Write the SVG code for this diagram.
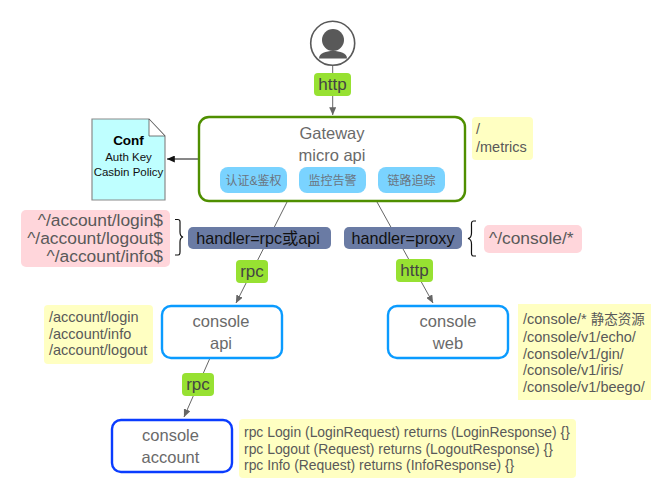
<svg xmlns="http://www.w3.org/2000/svg" width="672" height="499" viewBox="0 0 672 499">
<style>
text{font-family:"Liberation Sans","Noto Sans CJK SC",sans-serif;fill:#595959}
.c{text-anchor:middle}
.e{text-anchor:end}
.name{font-size:16.500px;fill:#6a6a6a}
.tag{font-size:17px;fill:#444}
.hd{font-size:16.200px;fill:#111}
.route{font-size:14.500px}
.rp{font-size:13.900px}
.big{font-size:17.400px}
.t12{font-size:12px;fill:#6a7480}
.edge{fill:none;stroke:#666;stroke-width:1;marker-end:url(#tri)}
.box{fill:#fff;stroke-width:2.400}
.yellow{fill:#ffffc2}
.pink{fill:#ffd6db}
.green{fill:#97e132}
.slate{fill:#6a7ba4}
.chip{fill:#7ad3ff}
.brace{fill:none;stroke:#111;stroke-width:1.200}
</style>
<defs>
<marker id="tri" viewBox="0 0 8 7" refX="7.800" refY="3.500" markerWidth="8" markerHeight="7" markerUnits="userSpaceOnUse" orient="auto"><path d="M0 0L8 3.500L0 7Z" fill="#666"/></marker>
<marker id="tri2" viewBox="0 0 8 7" refX="7.800" refY="3.500" markerWidth="8" markerHeight="7" markerUnits="userSpaceOnUse" orient="auto"><path d="M0 0L8 3.500L0 7Z" fill="#111"/></marker>
</defs>
<g id="connectors">
<path class="edge" d="M332.700 66V115"/>
<path d="M199 159H167" fill="none" stroke="#111" stroke-width="1" marker-end="url(#tri2)"/>
<path class="edge" d="M287 202L236 303"/>
<path class="edge" d="M377 202L433 303"/>
<path class="edge" d="M210 358L184 417"/>
</g>
<g id="user">
<circle cx="332.700" cy="43.300" r="22" fill="#fff" stroke="#595959" stroke-width="1.600"/>
<circle cx="333" cy="40" r="11" fill="#595959"/>
<path d="M319 58.500C319 53 326 51 333 51S347 53 347 58.500Z" fill="#595959"/>
</g>
<g id="label-http-top"><rect class="green" x="314" y="73" width="37" height="23" rx="4"/><text class="c tag" x="332.500" y="90">http</text></g>
<g id="gateway">
<rect class="box" x="199" y="117" width="266" height="84" rx="10" stroke="#4f8f00"/>
<text class="c name" x="332" y="139">Gateway</text>
<text class="c name" x="332" y="161">micro api</text>
</g>
<g id="chip-auth"><rect class="chip" x="220" y="167" width="67" height="26" rx="8"/><text class="c t12" x="253.500" y="184.500">认证&amp;鉴权</text></g>
<g id="chip-monitor"><rect class="chip" x="299" y="167" width="67" height="26" rx="8"/><text class="c t12" x="332.500" y="184.500">监控告警</text></g>
<g id="chip-trace"><rect class="chip" x="378" y="167" width="67" height="26" rx="8"/><text class="c t12" x="411.500" y="184.500">链路追踪</text></g>
<g id="conf">
<path d="M92 119H149L165 136V200H92Z" fill="#bfffff" stroke="#8a8a8a" stroke-width="1.200"/>
<path d="M149 119V136H165Z" fill="#fff" stroke="#555" stroke-width="0.800"/>
<text class="c" x="128.500" y="145" font-size="13.500" font-weight="bold" style="fill:#000">Conf</text>
<text class="c" x="128.500" y="161" font-size="11.500" style="fill:#111">Auth Key</text>
<text class="c" x="128.500" y="176" font-size="11.500" style="fill:#111">Casbin Policy</text>
</g>
<g id="note-metrics"><rect class="yellow" x="472" y="117" width="61" height="43" rx="4"/><text class="route" x="476" y="134">/</text><text class="route" x="476" y="152">/metrics</text></g>
<g id="note-account-routes">
<rect class="pink" x="21" y="210" width="149" height="57" rx="5"/>
<text class="e big" x="163" y="226">^/account/login$</text>
<text class="e big" x="163" y="244">^/account/logout$</text>
<text class="e big" x="163" y="262">^/account/info$</text>
</g>
<g id="brace-right"><path class="brace" d="M175 219.500H178C180.500 219.500 180 222 180 225V232C180 235 181 236.500 183 237C181 237.500 180 239 180 242V249C180 252 180.500 255 178 255H175"/></g>
<g id="handler-rpc"><rect class="slate" x="188" y="227" width="143" height="22" rx="5"/><text class="c hd" x="258" y="243.500">handler=rpc或api</text></g>
<g id="handler-proxy"><rect class="slate" x="344" y="227" width="118" height="22" rx="5"/><text class="c hd" x="403" y="243.500">handler=proxy</text></g>
<g id="brace-left"><path class="brace" d="M476 221H473.500C471 221 471.500 224 471.500 227V233C471.500 236 470.500 238 468 238.500C470.500 239 471.500 241 471.500 244V250C471.500 253 471 256 473.500 256H476"/></g>
<g id="note-console-route"><rect class="pink" x="484" y="225" width="98" height="28" rx="5"/><text class="big" x="489" y="244">^/console/*</text></g>
<g id="label-rpc-1"><rect class="green" x="236" y="260" width="32" height="23" rx="4"/><text class="c tag" x="252" y="277">rpc</text></g>
<g id="label-http-2"><rect class="green" x="396" y="259" width="37" height="23" rx="4"/><text class="c tag" x="414.500" y="276">http</text></g>
<g id="note-api-routes">
<rect class="yellow" x="44" y="305" width="109" height="59" rx="4"/>
<text class="route" x="49" y="322">/account/login</text>
<text class="route" x="49" y="339">/account/info</text>
<text class="route" x="49" y="355">/account/logout</text>
</g>
<g id="console-api"><rect class="box" x="162" y="306" width="120" height="52" rx="9" stroke="#0a9bff"/><text class="c name" x="221" y="327">console</text><text class="c name" x="221" y="349">api</text></g>
<g id="console-web"><rect class="box" x="388" y="306" width="120" height="52" rx="9" stroke="#0a9bff"/><text class="c name" x="448" y="327">console</text><text class="c name" x="448" y="349">web</text></g>
<g id="note-web-routes">
<rect class="yellow" x="518" y="304" width="133" height="96"/>
<text class="route" x="523" y="324">/console/* <tspan font-size="13.500">静态资源</tspan></text>
<text class="route" x="523" y="342">/console/v1/echo/</text>
<text class="route" x="523" y="359">/console/v1/gin/</text>
<text class="route" x="523" y="375">/console/v1/iris/</text>
<text class="route" x="523" y="392">/console/v1/beego/</text>
</g>
<g id="label-rpc-2"><rect class="green" x="182" y="373" width="32" height="23" rx="4"/><text class="c tag" x="198" y="390">rpc</text></g>
<g id="console-account"><rect class="box" x="112" y="420" width="120" height="52" rx="9" stroke="#0a3cff"/><text class="c name" x="170.500" y="441">console</text><text class="c name" x="170.500" y="463">account</text></g>
<g id="note-rpc">
<rect class="yellow" x="239" y="419" width="337" height="59" rx="4"/>
<text class="rp" x="244" y="437">rpc Login (LoginRequest) returns (LoginResponse) {}</text>
<text class="rp" x="244" y="454">rpc Logout (Request) returns (LogoutResponse) {}</text>
<text class="rp" x="244" y="470">rpc Info (Request) returns (InfoResponse) {}</text>
</g>
</svg>
